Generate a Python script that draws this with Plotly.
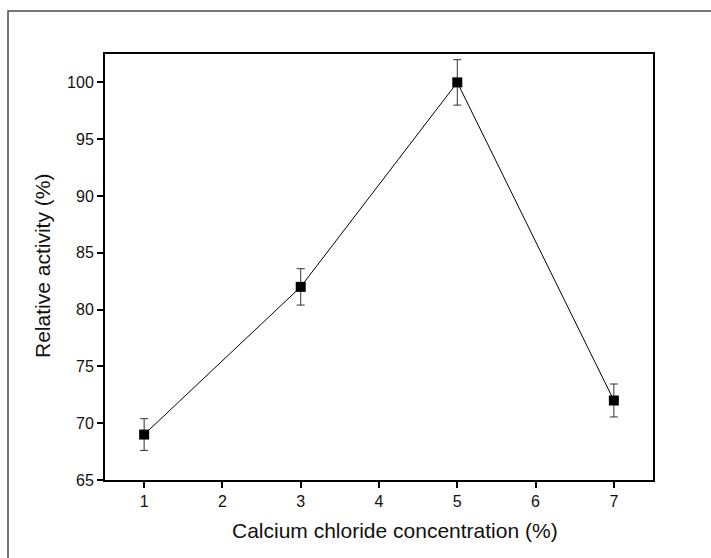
import plotly.graph_objects as go

# Relative activity at each calcium chloride concentration
concentration = [1, 3, 5, 7]
activity = [69, 82, 100, 72]
activity_err = [1.4, 1.6, 2.0, 1.45]

x_ticks = [1, 2, 3, 4, 5, 6, 7]
y_ticks = [65, 70, 75, 80, 85, 90, 95, 100]

W, H = 711, 558
L, R, T, B = 105, 58, 54, 78
pw, ph = W - L - R, H - T - B

def px_x(p):
    return (p - L) / pw

def px_y(p):
    return (H - B - p) / ph

fig = go.Figure()
fig.add_trace(go.Scatter(
    x=concentration, y=activity,
    mode="lines+markers",
    line=dict(color="black", width=1),
    marker=dict(symbol="square", size=10, color="black"),
    error_y=dict(type="data", array=activity_err, visible=True,
                 color="#333333", thickness=1, width=4),
    showlegend=False,
))

font_family = "Liberation Sans, Arial, sans-serif"
axis_common = dict(
    showline=True, linecolor="black", linewidth=2, mirror=True,
    ticks="outside", ticklen=6, tickwidth=1.5, tickcolor="black",
    showgrid=False, zeroline=False,
    tickfont=dict(family=font_family, size=16, color="#111111"),
)

fig.update_xaxes(range=[0.5, 7.5], tickvals=x_ticks, **axis_common)
fig.update_yaxes(range=[65, 102.5], tickvals=y_ticks, **axis_common)

title_font = dict(family=font_family, size=21, color="#111111")
fig.add_annotation(text="Calcium chloride concentration (%)",
                   xref="paper", yref="paper", x=px_x(395), y=px_y(530),
                   xanchor="center", yanchor="middle", showarrow=False,
                   font=title_font)
fig.add_annotation(text="Relative activity (%)",
                   xref="paper", yref="paper", x=px_x(42), y=px_y(266),
                   xanchor="center", yanchor="middle", showarrow=False,
                   textangle=-90, font=title_font)

# outer frame around the figure, running off the right and bottom edges
fig.add_shape(type="rect", xref="paper", yref="paper",
              x0=px_x(8), x1=px_x(725), y0=px_y(572), y1=px_y(11),
              line=dict(color="#4a4a4a", width=1.5), layer="below")

fig.update_layout(
    width=W, height=H,
    margin=dict(l=L, r=R, t=T, b=B),
    paper_bgcolor="white", plot_bgcolor="white",
)

fig.write_html("out.html")
